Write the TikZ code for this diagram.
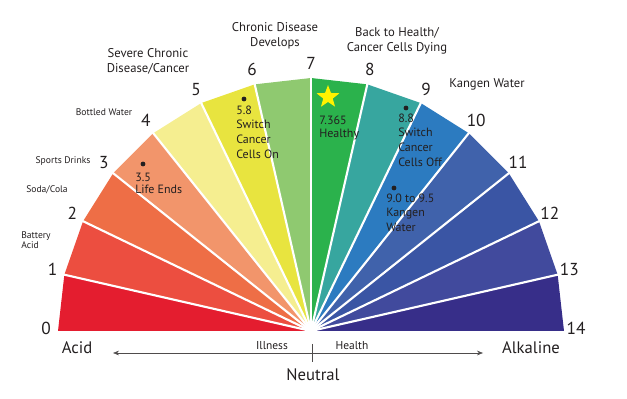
\documentclass[tikz,border=0pt]{standalone}
\usepackage{fontspec}
\setmainfont{PT Sans}
\usepackage{tikz}
\usetikzlibrary{arrows.meta, positioning, shapes.geometric, calc}
\definecolor{phA}{HTML}{E41D2F}
\definecolor{phB}{HTML}{EC4E40}
\definecolor{phC}{HTML}{EE6E46}
\definecolor{phD}{HTML}{F2956B}
\definecolor{phE}{HTML}{F5EE90}
\definecolor{phF}{HTML}{E8E43F}
\definecolor{phG}{HTML}{8FC970}
\definecolor{phH}{HTML}{2BB24C}
\definecolor{phI}{HTML}{37A69F}
\definecolor{phJ}{HTML}{2C7BC0}
\definecolor{phK}{HTML}{4062AB}
\definecolor{phL}{HTML}{3A55A4}
\definecolor{phM}{HTML}{414A9D}
\definecolor{phN}{HTML}{372E89}
\definecolor{inktxt}{HTML}{231F20}
\definecolor{staryel}{HTML}{FFF200}

\tikzset{
  numlbl/.style={font=\fontsize{13}{13}\selectfont, text=inktxt, inner sep=0pt},
  headlbl/.style={font=\fontsize{9.5}{11.2}\selectfont, text=inktxt, align=center, inner sep=0pt},
  sidelbl/.style={font=\fontsize{7.2}{7.5}\selectfont, text=inktxt, inner sep=0pt},
  inlbl/.style={font=\fontsize{9}{11}\selectfont, text=inktxt, align=left, inner sep=0pt, anchor=north west},
  endlbl/.style={font=\fontsize{12.5}{13}\selectfont, text=inktxt, inner sep=0pt},
  dotmark/.style={circle, fill=inktxt, inner sep=0pt, minimum size=3.6pt},
}

\begin{document}
\begin{tikzpicture}[x=0.75pt, y=0.75pt]
        \useasboundingbox (0,0) rectangle (627,399);
        \coordinate (ctr) at (311,68);

        % ── FAN ────────────────────────────────────
        \begin{scope}[shift={(ctr)}]
          \foreach \k/\col in {0/phA, 1/phB, 2/phC, 3/phD, 4/phE, 5/phF, 6/phG,
                               7/phH, 8/phI, 9/phJ, 10/phK, 11/phL, 12/phM, 13/phN} {
            \pgfmathsetmacro\aa{180-\k*180/14}
            \pgfmathsetmacro\ab{180-(\k+1)*180/14}
            \fill[\col] (0,0) -- (\aa:253) -- (\ab:253) -- cycle;
          }
          % white gaps
          \foreach \k in {1,...,13} {
            \pgfmathsetmacro\aa{180-\k*180/14}
            \draw[white, line width=1.6pt] (0,0) -- (\aa:256);
          }
          \fill[white] (0,0) circle (5);
          % scale numbers
          \foreach \k in {0,...,14} {
            \pgfmathsetmacro\aa{180-\k*180/14}
            \node[numlbl] (n\k) at ($(\aa:265)+(0,3)$) {\k};
          }
        \end{scope}

        % ── TOP LABELS ─────────────────────────────
        \node[headlbl] (severe) at (148,337.5) {Severe Chronic\\Disease/Cancer};
        \node[headlbl] (chronic) at (275,363) {Chronic Disease\\Develops};
        \node[headlbl] (backhealth) at (397,358) {Back to Health/\\Cancer Cells Dying};
        \node[headlbl] (kangen) at (487,315) {Kangen Water};

        % ── DRINKS ─────────────────────────────────
        \node[sidelbl] (bottled) at (104,287) {Bottled Water};
        \node[sidelbl] (sports) at (63,238) {Sports Drinks};
        \node[sidelbl] (soda) at (47,209) {Soda/Cola};
        \node[sidelbl, align=left, anchor=west] (battery) at (21,159) {Battery\\Acid};

        % ── MARKERS IN THE FAN ─────────────────────
        \node[dotmark] (d35) at (143,235) {};
        \node[inlbl, font=\fontsize{9}{9.4}\selectfont] (t35) at (135,226.5) {3.5\\Life Ends};
        \node[dotmark] (d58) at (244,300) {};
        \node[inlbl] (t58) at (236,293.5) {5.8\\Switch\\Cancer\\Cells On};
        \node[star, star points=5, star point ratio=2.4, fill=staryel,
              inner sep=0pt, minimum size=18pt] (healthy) at (328,302) {};
        \node[inlbl, font=\fontsize{9}{9.8}\selectfont] (t7) at (319,283.5) {7.365\\Healthy};
        \node[dotmark] (d88) at (406,291) {};
        \node[inlbl] (t88) at (398,285.5) {8.8\\Switch\\Cancer\\Cells Off};
        \node[dotmark] (d90) at (394,211) {};
        \node[inlbl] (t90) at (386,205.5) {9.0 to 9.5\\Kangen\\Water};

        % ── SCALE AXIS ─────────────────────────────
        \node[endlbl] (acid) at (77,51) {Acid};
        \node[endlbl] (alkaline) at (531,51) {Alkaline};
        \node[endlbl] (neutral) at (313,24) {Neutral};
        \node[font=\fontsize{8.6}{9}\selectfont, text=inktxt, inner sep=0pt] (illness) at (272,53) {Illness};
        \node[font=\fontsize{8.6}{9}\selectfont, text=inktxt, inner sep=0pt] (health) at (352,53) {Health};
        \coordinate (illend) at (113,46);
        \coordinate (hlthend) at (483,46);
        \coordinate (ticktop) at (312,55);
        \coordinate (tickbot) at (312,37);
        \draw[inktxt!80, line width=0.5pt, {Stealth[length=4.5pt, width=3.5pt]}-{Stealth[length=4.5pt, width=3.5pt]}]
          (illend) -- (hlthend);
        \draw[inktxt!80, line width=0.5pt] (ticktop) -- (tickbot);
      \end{tikzpicture}
\end{document}
